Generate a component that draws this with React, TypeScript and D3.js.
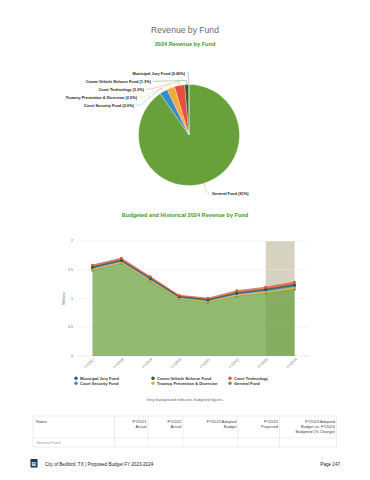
import React from 'react';
import * as d3 from 'd3';

// data
const years = ['FY2017', 'FY2018', 'FY2019', 'FY2020', 'FY2021', 'FY2022', 'FY2023', 'FY2024'];
const budgetedYears = ['FY2023', 'FY2024'];

// series in legend order
const seriesNames = [
  'Municipal Jury Fund',
  'Comm Vehicle Enforce Fund',
  'Court Technology',
  'Court Security Fund',
  'Truancy Prevention & Diversion',
  'General Fund',
];
const seriesColors = ['#2b5c86', '#2d5f1f', '#e4503d', '#3b8bc6', '#f4a93b', '#68a03a'];
// stacking order, bottom to top
const stackOrder = [
  'General Fund',
  'Truancy Prevention & Diversion',
  'Court Security Fund',
  'Municipal Jury Fund',
  'Comm Vehicle Enforce Fund',
  'Court Technology',
];

const municipalJury = [0.001, 0.001, 0.001, 0.001, 0.001, 0.001, 0.001, 0.001];
const commVehicle = [0.015, 0.015, 0.015, 0.01, 0.01, 0.015, 0.015, 0.017];
const courtTech = [0.03, 0.03, 0.025, 0.02, 0.025, 0.035, 0.036, 0.042];
const courtSecurity = [0.025, 0.025, 0.02, 0.02, 0.02, 0.025, 0.03, 0.033];
const truancy = [0.02, 0.02, 0.02, 0.015, 0.02, 0.02, 0.025, 0.032];
const generalFund = [1.49, 1.61, 1.3, 0.99, 0.93, 1.04, 1.09, 1.16];
const seriesValues = [municipalJury, commVehicle, courtTech, courtSecurity, truancy, generalFund];

const yTicks = [0, 0.5, 1, 1.5, 2];

// pie (2024 share, clockwise from top)
const pieNames = [
  'General Fund',
  'Court Security Fund',
  'Truancy Prevention & Diversion',
  'Court Technology',
  'Comm Vehicle Enforce Fund',
  'Municipal Jury Fund',
];
const pieShares = [91, 2.6, 2.5, 3.3, 1.3, 0.06];
const pieLabels = ['91%', '2.6%', '2.5%', '3.3%', '1.3%', '0.06%'];

const tableHeaders = [
  ['Name'],
  ['FY2021', 'Actual'],
  ['FY2022', 'Actual'],
  ['FY2023 Adopted', 'Budget'],
  ['FY2023', 'Projected'],
  ['FY2023 Adopted', 'Budget vs. FY2024', 'Budgeted (% Change)'],
];
const tableRows = ['General Fund'];

const font = 'Liberation Sans, Arial, sans-serif';

const colorOf = (name: string) => seriesColors[seriesNames.indexOf(name)];

const PieChart = () => {
  const cx = 189;
  const cy = 135;
  const r = 50.5;
  const arcs = d3.pie<number>().sort(null)(pieShares);
  const arc = d3.arc<d3.PieArcDatum<number>>().innerRadius(0).outerRadius(r);
  // label spots for the small slices (end x, y) and general fund (start x, y)
  const labelSpots: [number, number][] = [
    [212, 195],
    [134, 106.5],
    [137, 98.5],
    [144, 90.5],
    [151, 82.5],
    [185, 74.5],
  ];
  return (
    <g>
      <g transform={`translate(${cx},${cy})`}>
        {arcs.map((a, i) => (
          <path key={i} d={arc(a) || ''} fill={colorOf(pieNames[i])} stroke="#fff" strokeWidth={0.3} />
        ))}
      </g>
      {arcs.map((a, i) => {
        const mid = (a.startAngle + a.endAngle) / 2;
        const px = cx + Math.sin(mid) * r;
        const py = cy - Math.cos(mid) * r;
        const [lx, ly] = labelSpots[i];
        const left = i > 0;
        const ex = left ? lx + 2 : lx - 2;
        const ey = ly - 1.3;
        let d: string;
        if (i === 0) {
          d = `M${px},${py} Q${px + 2},${ey} ${ex},${ey}`;
        } else if (i === 5) {
          d = `M${px},${py} L${ex + 1},${ey - 1} L${ex},${ey}`;
        } else {
          const ox = cx + Math.sin(mid) * (r + 4);
          const oy = cy - Math.cos(mid) * (r + 4);
          d = `M${px},${py} L${ox},${oy} L${ex + 4},${ey} L${ex},${ey}`;
        }
        return (
          <g key={i}>
            <path d={d} fill="none" stroke={colorOf(pieNames[i])} strokeWidth={0.4} opacity={0.8} />
            <text
              x={lx}
              y={ly}
              fontSize={3.9}
              fontWeight="bold"
              fill="#222"
              textAnchor={left ? 'end' : 'start'}
              fontFamily={font}
            >
              {`${pieNames[i]} (${pieLabels[i]})`}
            </text>
          </g>
        );
      })}
    </g>
  );
};

const AreaChart = () => {
  const left = 78;
  const right = 309;
  const top = 241;
  const bottom = 356;
  const x = d3.scaleBand<string>().domain(years).range([left, right]);
  const xc = (yr: string) => (x(yr) || 0) + x.bandwidth() / 2;
  const y = d3.scaleLinear().domain([0, 2]).range([bottom, top]);

  const rows = years.map((yr, j) => {
    const o: Record<string, any> = { year: yr };
    seriesNames.forEach((n, k) => (o[n] = seriesValues[k][j]));
    return o;
  });
  const stacked = d3.stack<Record<string, any>>().keys(stackOrder)(rows);
  const area = d3
    .area<d3.SeriesPoint<Record<string, any>>>()
    .x((d) => xc(d.data.year))
    .y0((d) => y(d[0]))
    .y1((d) => y(d[1]));
  const line = d3
    .line<d3.SeriesPoint<Record<string, any>>>()
    .x((d) => xc(d.data.year))
    .y((d) => y(d[1]));

  const bandStart = xc(budgetedYears[0]);
  const bandEnd = xc(budgetedYears[budgetedYears.length - 1]);

  return (
    <g fontFamily={font}>
      <rect x={bandStart} y={top} width={bandEnd - bandStart} height={bottom - top} fill="#d6d2c2" />
      {yTicks.map((t) => (
        <g key={t}>
          <line x1={left} x2={right} y1={y(t)} y2={y(t)} stroke={t === 0 ? '#d6d6d6' : '#ececec'} strokeWidth={0.5} />
          <text x={left - 5} y={y(t) + 1.2} fontSize={3.6} fill="#666" textAnchor="end">
            {t}
          </text>
        </g>
      ))}
      <text transform={`translate(65,${(top + bottom) / 2}) rotate(-90)`} fontSize={3.8} fill="#666" textAnchor="middle">
        Millions
      </text>
      {stacked.map((s) => (
        <path key={s.key} d={area(s) || ''} fill={colorOf(s.key)} fillOpacity={0.72} />
      ))}
      {stacked.map((s) => (
        <g key={s.key + 'l'}>
          <path d={line(s) || ''} fill="none" stroke={colorOf(s.key)} strokeWidth={0.7} />
          {s.map((d, j) => (
            <circle key={j} cx={xc(d.data.year)} cy={y(d[1])} r={1.4} fill={colorOf(s.key)} />
          ))}
        </g>
      ))}
      {years.map((yr) => (
        <text
          key={yr}
          transform={`translate(${xc(yr) + 2.5},${bottom + 3.5}) rotate(-45)`}
          fontSize={3.6}
          fill="#666"
          textAnchor="end"
        >
          {yr}
        </text>
      ))}
      {seriesNames.map((n, i) => {
        const col = i % 3;
        const row = Math.floor(i / 3);
        const lx = 76 + col * 77;
        const ly = 379.5 + row * 5;
        return (
          <g key={n}>
            <circle cx={lx} cy={ly - 1.3} r={1.7} fill={seriesColors[i]} />
            <text x={lx + 4} y={ly} fontSize={4} fontWeight="bold" fill="#333">
              {n}
            </text>
          </g>
        );
      })}
      <text x={185} y={401} fontSize={3.9} fill="#666" textAnchor="middle">
        Grey background indicates budgeted figures.
      </text>
    </g>
  );
};

const Table = () => {
  const colEdges = [33, 114.5, 148, 183, 238, 279.5, 336.5];
  const top = 416;
  const headBottom = 438;
  const bottom = 447;
  return (
    <g fontFamily={font}>
      <rect x={colEdges[0]} y={top} width={colEdges[6] - colEdges[0]} height={bottom - top} fill="none" stroke="#dcdcdc" strokeWidth={0.5} />
      <line x1={colEdges[0]} x2={colEdges[6]} y1={headBottom} y2={headBottom} stroke="#dcdcdc" strokeWidth={0.5} />
      {colEdges.slice(1, 6).map((cx) => (
        <line key={cx} x1={cx} x2={cx} y1={top} y2={bottom} stroke="#dcdcdc" strokeWidth={0.5} />
      ))}
      {tableHeaders.map((h, i) =>
        h.map((ln, k) => (
          <text
            key={i + '-' + k}
            x={i === 0 ? colEdges[0] + 3 : colEdges[i + 1] - 1.5}
            y={422.5 + k * 5.4}
            fontSize={4}
            fill="#444"
            textAnchor={i === 0 ? 'start' : 'end'}
          >
            {ln}
          </text>
        ))
      )}
      {tableRows.map((r, i) => (
        <text key={r} x={colEdges[0] + 3} y={444 + i * 9} fontSize={4} fill="#999">
          {r}
        </text>
      ))}
    </g>
  );
};

const App = () => {
  return (
    <svg
      width={370}
      height={480}
      viewBox="0 0 370 480"
      style={{ position: 'absolute', left: 0, top: 0, background: '#fff' }}
    >
      <rect width={370} height={480} fill="#fff" />
      <text x={185} y={33} fontSize={8.6} fill="#6b6b6b" textAnchor="middle" fontFamily={font}>
        Revenue by Fund
      </text>
      <text x={185} y={46} fontSize={5.6} fontWeight="bold" fill="#3e9a22" textAnchor="middle" fontFamily={font}>
        2024 Revenue by Fund
      </text>
      <PieChart />
      <text x={185} y={217} fontSize={5.6} fontWeight="bold" fill="#3e9a22" textAnchor="middle" fontFamily={font}>
        Budgeted and Historical 2024 Revenue by Fund
      </text>
      <AreaChart />
      <Table />
      <g fontFamily={font}>
        <rect x={30.5} y={459} width={7} height={8.5} fill="#1d3a5c" />
        <text x={34} y={466} fontSize={6} fontWeight="bold" fill="#fff" textAnchor="middle">
          B
        </text>
        <text x={45} y={466} fontSize={4.6} fill="#222">
          City of Bedford, TX | Proposed Budget FY 2023-2024
        </text>
        <text x={340} y={466} fontSize={4.6} fill="#222" textAnchor="end">
          Page 247
        </text>
      </g>
    </svg>
  );
};

export default App;
